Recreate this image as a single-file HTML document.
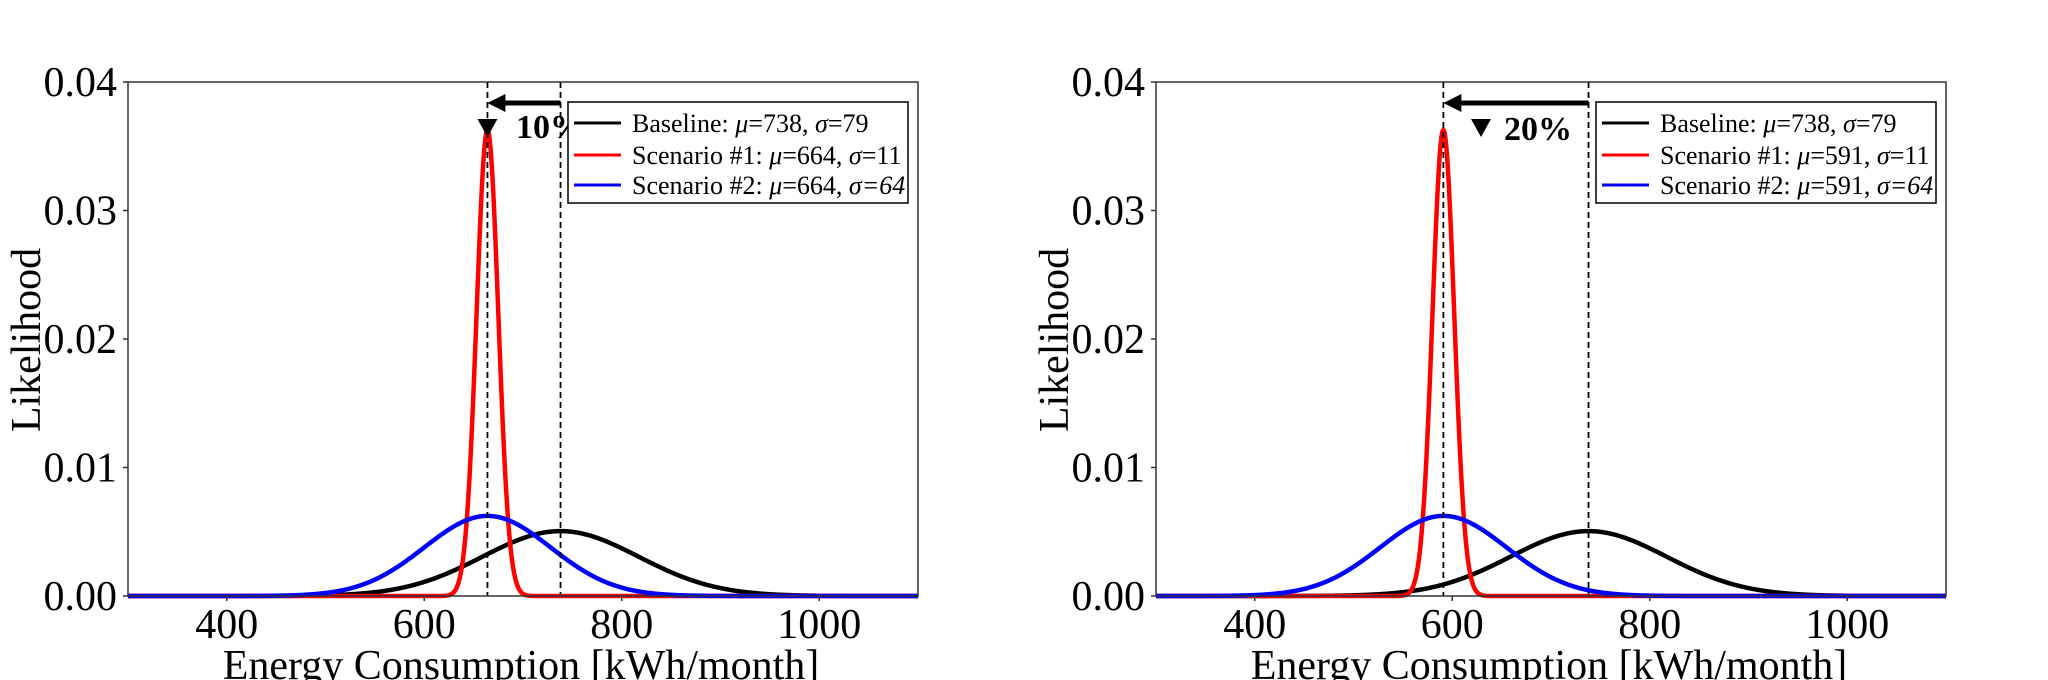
<!DOCTYPE html>
<html><head><meta charset="utf-8"><style>
html,body{margin:0;padding:0;background:#fff;width:2048px;height:680px;overflow:hidden}
svg{display:block;font-family:"Liberation Serif",serif}
</style></head><body>
<svg id="chart" width="2048" height="680" viewBox="0 0 2048 680" xmlns="http://www.w3.org/2000/svg"></svg>
<script>
const xTicks=[400,600,800,1000];
const yTicks=[0,0.01,0.02,0.03,0.04];
const yTickLabels=["0.00","0.01","0.02","0.03","0.04"];
const seriesNames=["Baseline","Scenario #1","Scenario #2"];
const seriesColors=["#000","#ff0000","#0000ff"];
const leftMu=[738,664,664];
const leftSigma=[79,11,64];
const rightMu=[738,591,591];
const rightSigma=[79,11,64];
const reductionLabels=["10%","20%"];
const NS="http://www.w3.org/2000/svg";
const svg=document.getElementById('chart');
function mk(tag,attrs,parent){const e=document.createElementNS(NS,tag);for(const k in attrs)e.setAttribute(k,attrs[k]);(parent||svg).appendChild(e);return e;}
function pdf(x,m,s){return Math.exp(-0.5*((x-m)/s)**2)/(s*Math.sqrt(2*Math.PI));}
function panel(x0,mu,sigma,pct,idx){
  const x1=x0+790,yTop=82,yBot=596;
  const xs=v=>x0+(v-300)*(x1-x0)/800;
  const ys=v=>yBot-(v/0.04)*(yBot-yTop);
  const g=mk('g',{});
  
  
  for(let s=0;s<3;s++){
    let d='';
    for(let v=300;v<=1100;v+=0.5){d+=(v===300?'M':'L')+xs(v).toFixed(2)+','+ys(pdf(v,mu[s],sigma[s])).toFixed(2);}
    const p=mk('path',{d:d,fill:'none',stroke:seriesColors[s],'stroke-width':4.5,'stroke-linejoin':'round'},g);
    
    
  }
  [mu[1],mu[0]].forEach((m,i)=>{
    const l=mk('line',{x1:xs(m),x2:xs(m),y1:yTop,y2:yBot,stroke:'#000','stroke-width':1.8,'stroke-dasharray':'6,4'},g);
    
    
  });
  const fr=mk('rect',{x:x0,y:yTop,width:x1-x0,height:yBot-yTop,fill:'none',stroke:'#333','stroke-width':1.5},g);
  
  
  const ax1=xs(mu[0]),ax2=xs(mu[1]);
  const ar=mk('g',{},g);
  
  
  mk('line',{x1:ax1,x2:ax2+14,y1:103,y2:103,stroke:'#000','stroke-width':5},ar);
  mk('polygon',{points:`${ax2},103 ${ax2+18},94 ${ax2+18},112`,fill:'#000'},ar);
  const tx=idx===0?ax2:1481;
  const tri=mk('polygon',{points:`${tx-10},119 ${tx+10},119 ${tx},137`,fill:'#000'},g);
  
  
  const pt=mk('text',{x:idx===0?516:1504,y:idx===0?138:140,'font-size':34,'font-weight':'bold'},g);
  pt.textContent=pct;
  
  
  yTicks.forEach((t,i)=>{
    mk('line',{x1:x0-5,x2:x0,y1:ys(t),y2:ys(t),stroke:'#333','stroke-width':1.5},g);
    const tt=mk('text',{x:x0-11,y:ys(t)+14,'font-size':42,'text-anchor':'end'},g);
    tt.textContent=yTickLabels[i];
    
    
  });
  xTicks.forEach(t=>{
    mk('line',{x1:xs(t),x2:xs(t),y1:yBot,y2:yBot+5,stroke:'#333','stroke-width':1.5},g);
    const tt=mk('text',{x:xs(t),y:638,'font-size':42,'text-anchor':'middle'},g);
    tt.textContent=t;
    
    
  });
  const xl=mk('text',{x:(x0+x1)/2-2,y:679,'font-size':42,'text-anchor':'middle'},g);
  xl.textContent='Energy Consumption [kWh/month]';
  
  
  const yl=mk('text',{x:0,y:0,'font-size':42,'text-anchor':'middle',transform:`translate(${x0-88},340) rotate(-90)`},g);
  yl.textContent='Likelihood';
  
  
  const lx=x0+440;
  const lg=mk('g',{},g);
  
  
  mk('rect',{x:lx,y:102,width:340,height:101,fill:'#fff',stroke:'#000','stroke-width':1.5},lg);
  [123,155,185].forEach((yy,s)=>{
    const en=mk('g',{},lg);
    
    
    mk('line',{x1:lx+6,x2:lx+53,y1:yy,y2:yy,stroke:seriesColors[s],'stroke-width':3},en);
    const t=mk('text',{x:lx+64,y:yy+9,'font-size':26},en);
    const it=s===2?' font-style="italic"':'';
    t.innerHTML=`${seriesNames[s]}: <tspan font-style="italic">μ</tspan>=${mu[s]}, <tspan font-style="italic">σ</tspan><tspan${it}>=${sigma[s]}</tspan>`;
  });
}
panel(128,leftMu,leftSigma,reductionLabels[0],0);
panel(1156,rightMu,rightSigma,reductionLabels[1],1);
</script>
</body></html>
